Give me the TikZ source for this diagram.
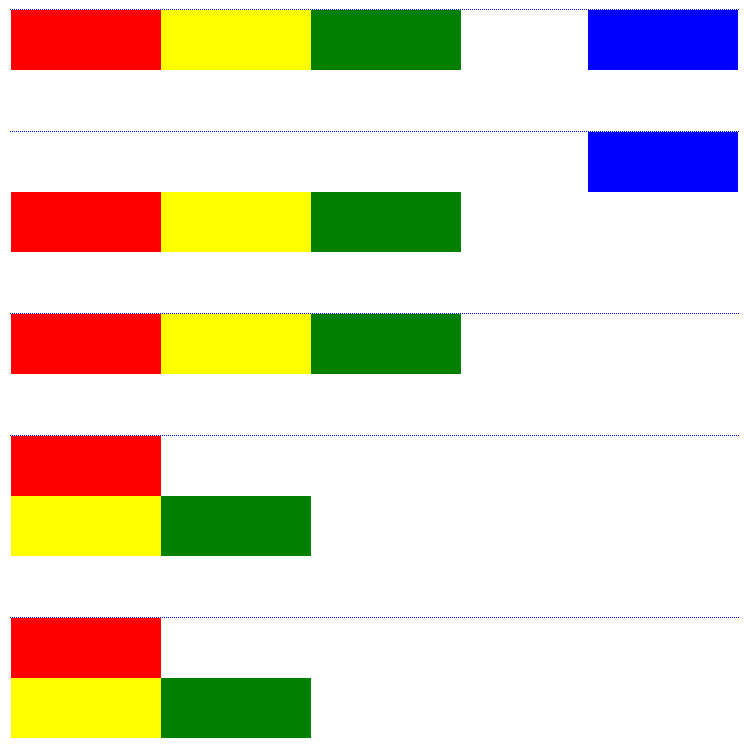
\documentclass[tikz,border=0pt]{standalone}
\definecolor{cred}{RGB}{255,0,0}
\definecolor{cyellow}{RGB}{255,255,0}
\definecolor{cgreen}{RGB}{0,128,0}
\definecolor{cblue}{RGB}{0,0,255}
\begin{document}
\begin{tikzpicture}[x=1pt,y=-1pt,
  cell/.style={anchor=north west,inner sep=0pt,outer sep=0pt,minimum width=150pt,minimum height=60pt,draw=none},
  dot/.style={fill=cblue}]
\useasboundingbox (0,0) rectangle (744,753);
% dotted separators drawn as 1px blue dots
\foreach \yy in {9,131,313,435,617}{
  \foreach \xx in {10,12,...,738}{
    \fill[dot] (\xx,\yy) rectangle ++(1,1);
  }
}
% section 1
\node[cell,fill=cred] (r1) at (11,10) {};
\node[cell,fill=cyellow] (y1) at (161,10) {};
\node[cell,fill=cgreen] (g1) at (311,10) {};
\node[cell,fill=cblue] (b1) at (588,10) {};
% section 2
\node[cell,fill=cblue] (b2) at (588,132) {};
\node[cell,fill=cred] (r2) at (11,192) {};
\node[cell,fill=cyellow] (y2) at (161,192) {};
\node[cell,fill=cgreen] (g2) at (311,192) {};
% section 3
\node[cell,fill=cred] (r3) at (11,314) {};
\node[cell,fill=cyellow] (y3) at (161,314) {};
\node[cell,fill=cgreen] (g3) at (311,314) {};
% section 4
\node[cell,fill=cred] (r4) at (11,436) {};
\node[cell,fill=cyellow] (y4) at (11,496) {};
\node[cell,fill=cgreen] (g4) at (161,496) {};
% section 5
\node[cell,fill=cred] (r5) at (11,618) {};
\node[cell,fill=cyellow] (y5) at (11,678) {};
\node[cell,fill=cgreen] (g5) at (161,678) {};
\end{tikzpicture}
\end{document}
